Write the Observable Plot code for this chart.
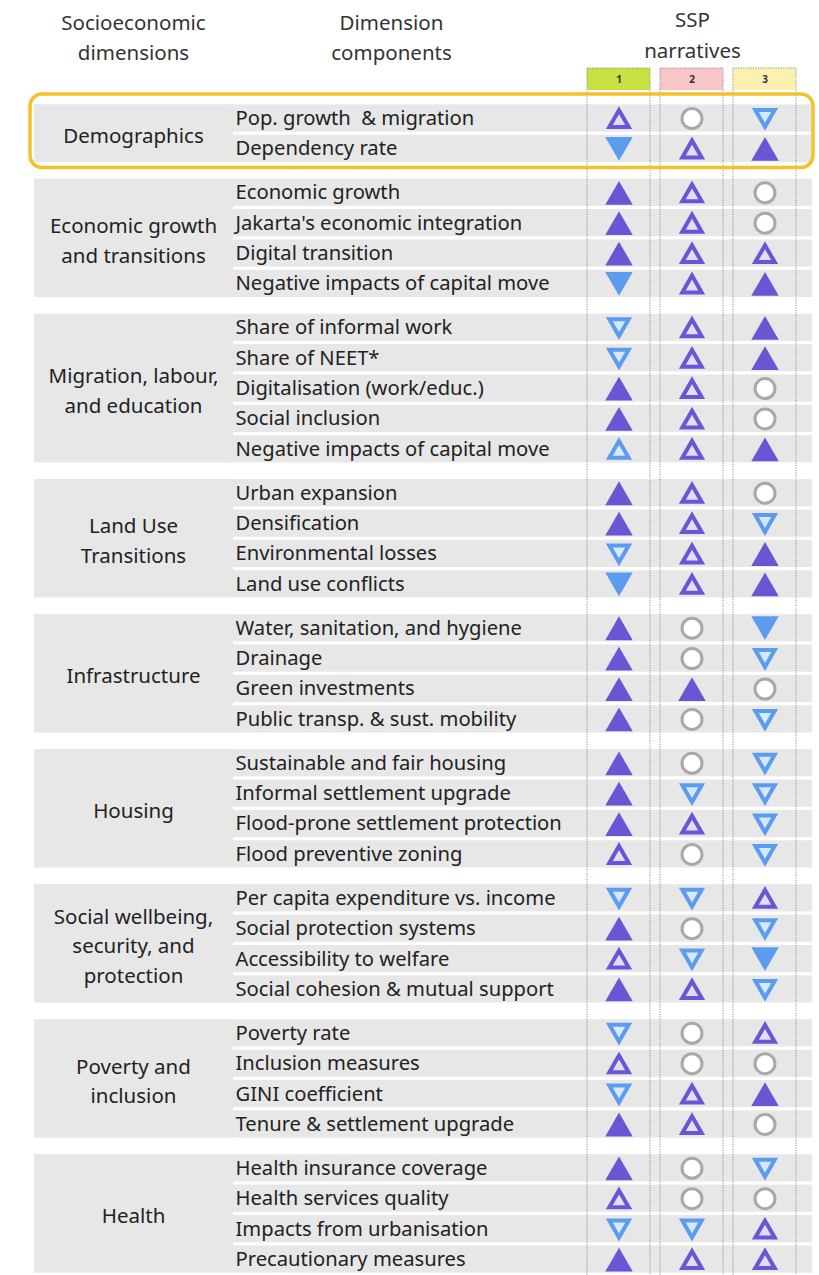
<!DOCTYPE html>
<html>
<head>
<meta charset="utf-8">
<script src="https://cdn.jsdelivr.net/npm/d3@7"></script>
<script src="https://cdn.jsdelivr.net/npm/@observablehq/plot@0.6"></script>
<style>
  html, body { margin: 0; padding: 0; background: #fff; }
  #chart { width: 819px; }
</style>
</head>
<body>
<div id="chart"></div>
<script>
// ---------------- DATA ----------------
const headerLabels = ["Socioeconomic\ndimensions", "Dimension\ncomponents", "SSP\nnarratives"];
const sspLabels = ["1", "2", "3"];

const dimensions = [
  "Demographics",
  "Economic growth\nand transitions",
  "Migration, labour,\nand education",
  "Land Use\nTransitions",
  "Infrastructure",
  "Housing",
  "Social wellbeing,\nsecurity, and\nprotection",
  "Poverty and\ninclusion",
  "Health"
];

const components = [
  ["Pop. growth  & migration", "Dependency rate"],
  ["Economic growth", "Jakarta's economic integration", "Digital transition", "Negative impacts of capital move"],
  ["Share of informal work", "Share of NEET*", "Digitalisation (work/educ.)", "Social inclusion", "Negative impacts of capital move"],
  ["Urban expansion", "Densification", "Environmental losses", "Land use conflicts"],
  ["Water, sanitation, and hygiene", "Drainage", "Green investments", "Public transp. & sust. mobility"],
  ["Sustainable and fair housing", "Informal settlement upgrade", "Flood-prone settlement protection", "Flood preventive zoning"],
  ["Per capita expenditure vs. income", "Social protection systems", "Accessibility to welfare", "Social cohesion & mutual support"],
  ["Poverty rate", "Inclusion measures", "GINI coefficient", "Tenure & settlement upgrade"],
  ["Health insurance coverage", "Health services quality", "Impacts from urbanisation", "Precautionary measures"]
];

// codes: "++" strong increase, "+" increase, "--" strong decrease, "-" decrease,
//        "+b" increase (blue outline), "0" no change
const ssp1 = [
  "+", "--",
  "++", "++", "++", "--",
  "-", "-", "++", "++", "+b",
  "++", "++", "-", "--",
  "++", "++", "++", "++",
  "++", "++", "++", "+",
  "-", "++", "+", "++",
  "-", "+", "-", "++",
  "++", "+", "-", "++"
];
const ssp2 = [
  "0", "+",
  "+", "+", "+", "+",
  "+", "+", "+", "+", "+",
  "+", "+", "+", "+",
  "0", "0", "++", "0",
  "0", "-", "+", "0",
  "-", "0", "-", "+",
  "0", "0", "+", "+",
  "0", "0", "-", "+"
];
const ssp3 = [
  "-", "++",
  "0", "0", "+", "++",
  "++", "++", "0", "0", "++",
  "0", "-", "++", "++",
  "--", "-", "0", "-",
  "-", "-", "-", "-",
  "+", "-", "--", "-",
  "+", "0", "++", "0",
  "-", "0", "+", "+"
];

// ---------------- LAYOUT ----------------
const W = 819, H = 1275;
const GRAY = "#e7e7e7";
const PURPLE = "#6a55d4";
const LAV = "#e2ddf8";
const BLUE = "#5c9cee";
const LBLUE = "#d8e8fb";
const headColors = {"1": "#c8e042", "2": "#f8c6c6", "3": "#fcf1b0"};

const GAP = 0.444; // extra space between groups, in row units
const rows = [];
let k = 0;
const groups = dimensions.map((dim, g) => {
  const first = k + g * GAP;
  components[g].forEach(comp => { rows.push({dim, comp, slot: k + g * GAP, idx: k}); k++; });
  const last = (k - 1) + g * GAP;
  return {dim, first, last, mid: (first + last) / 2};
});
const LAST = rows[rows.length - 1].slot;
const Y0 = 118, Y1 = 1259;
const toSlot = px => (px - Y0) / (Y1 - Y0) * LAST;

const series = {"1": ssp1, "2": ssp2, "3": ssp3};
const symbols = rows.flatMap(r => sspLabels.map(s => ({ssp: s, slot: r.slot, code: series[s][r.idx]})));

const styles = {
  "++": {symbol: "triangle", fill: PURPLE, stroke: "none", sw: 0, r: 10.2, rotate: 0, dy: 4},
  "+":  {symbol: "triangle", fill: LAV, stroke: PURPLE, sw: 4, r: 7.2, rotate: 0, dy: 2.9},
  "--": {symbol: "triangle", fill: BLUE, stroke: "none", sw: 0, r: 10.2, rotate: 180, dy: -4},
  "-":  {symbol: "triangle", fill: LBLUE, stroke: BLUE, sw: 4, r: 7.2, rotate: 180, dy: -2.9},
  "+b": {symbol: "triangle", fill: LBLUE, stroke: BLUE, sw: 4, r: 7.2, rotate: 0, dy: 2.9},
  "0":  {symbol: "circle", fill: "#ffffff", stroke: "#a8a8a8", sw: 3, r: 10, rotate: 0, dy: 0}
};

const FONT = '"Noto Sans", "Open Sans", sans-serif';

const chart = Plot.plot({
  width: W,
  height: H,
  margin: 0,
  style: {fontFamily: FONT, background: "#fff"},
  x: {type: "band", domain: sspLabels, range: [587, 797], paddingInner: 0.135, paddingOuter: 0, axis: null},
  y: {type: "linear", domain: [0, LAST], range: [Y0, Y1], axis: null},
  marks: [
    // dimension blocks
    Plot.rect(groups, {y1: d => d.first - 0.5, y2: d => d.last + 0.5, insetTop: 1.5, insetBottom: 1.5,
      insetLeft: 34, insetRight: W - 233, fill: GRAY}),
    // component rows
    Plot.rect(rows, {y1: d => d.slot - 0.5, y2: d => d.slot + 0.5, insetTop: 1.6, insetBottom: 1.6,
      insetLeft: 231, insetRight: 7, fill: GRAY}),
    // SSP header boxes
    Plot.barY(sspLabels, {x: d => d, y1: toSlot(68), y2: toSlot(90), fill: d => headColors[d]}),
    // dotted column borders
    Plot.barY(sspLabels, {x: d => d, y1: toSlot(68), y2: LAST + 2, fill: "none",
      stroke: "#8c8c8c", strokeWidth: 1, strokeDasharray: "1.2,1.3"}),
    Plot.text(sspLabels, {x: d => d, y: toSlot(79), text: d => d, fontSize: 10, fontWeight: "bold", fill: "#333"}),
    // highlight box
    Plot.rect([groups[0]], {y1: d => d.first - 0.5, y2: d => d.last + 0.5, insetTop: -8.8, insetBottom: -3.9,
      insetLeft: 30, insetRight: W - 813, rx: 12, fill: "none", stroke: "#f3c22b", strokeWidth: 3.5}),
    // header texts
    Plot.text([headerLabels[0]], {frameAnchor: "top-left", dx: 133, dy: 35, text: d => d, textAnchor: "middle",
      lineAnchor: "middle", lineHeight: 1.45, fontSize: 20.5, fill: "#333"}),
    Plot.text([headerLabels[1]], {frameAnchor: "top-left", dx: 391, dy: 35, text: d => d, textAnchor: "middle",
      lineAnchor: "middle", lineHeight: 1.45, fontSize: 20.5, fill: "#333"}),
    Plot.text([headerLabels[2]], {frameAnchor: "top-left", dx: 692, dy: 32, text: d => d, textAnchor: "middle",
      lineAnchor: "middle", lineHeight: 1.5, fontSize: 20.5, fill: "#333"}),
    // dimension labels
    Plot.text(groups, {y: "mid", text: "dim", frameAnchor: "left", dx: 133, textAnchor: "middle",
      lineAnchor: "middle", lineHeight: 1.45, fontSize: 20.5, fill: "#222"}),
    // component labels
    Plot.text(rows, {y: "slot", text: "comp", frameAnchor: "left", dx: 235, textAnchor: "start",
      fontSize: 20.2, fill: "#222"}),
    // symbols
    ...Object.entries(styles).map(([code, s]) =>
      Plot.dot(symbols.filter(d => d.code === code), {x: "ssp", y: "slot", symbol: s.symbol, r: s.r,
        fill: s.fill, stroke: s.stroke, strokeWidth: s.sw, rotate: s.rotate, dy: s.dy}))
  ]
});
document.getElementById("chart").append(chart);
</script>
</body>
</html>
